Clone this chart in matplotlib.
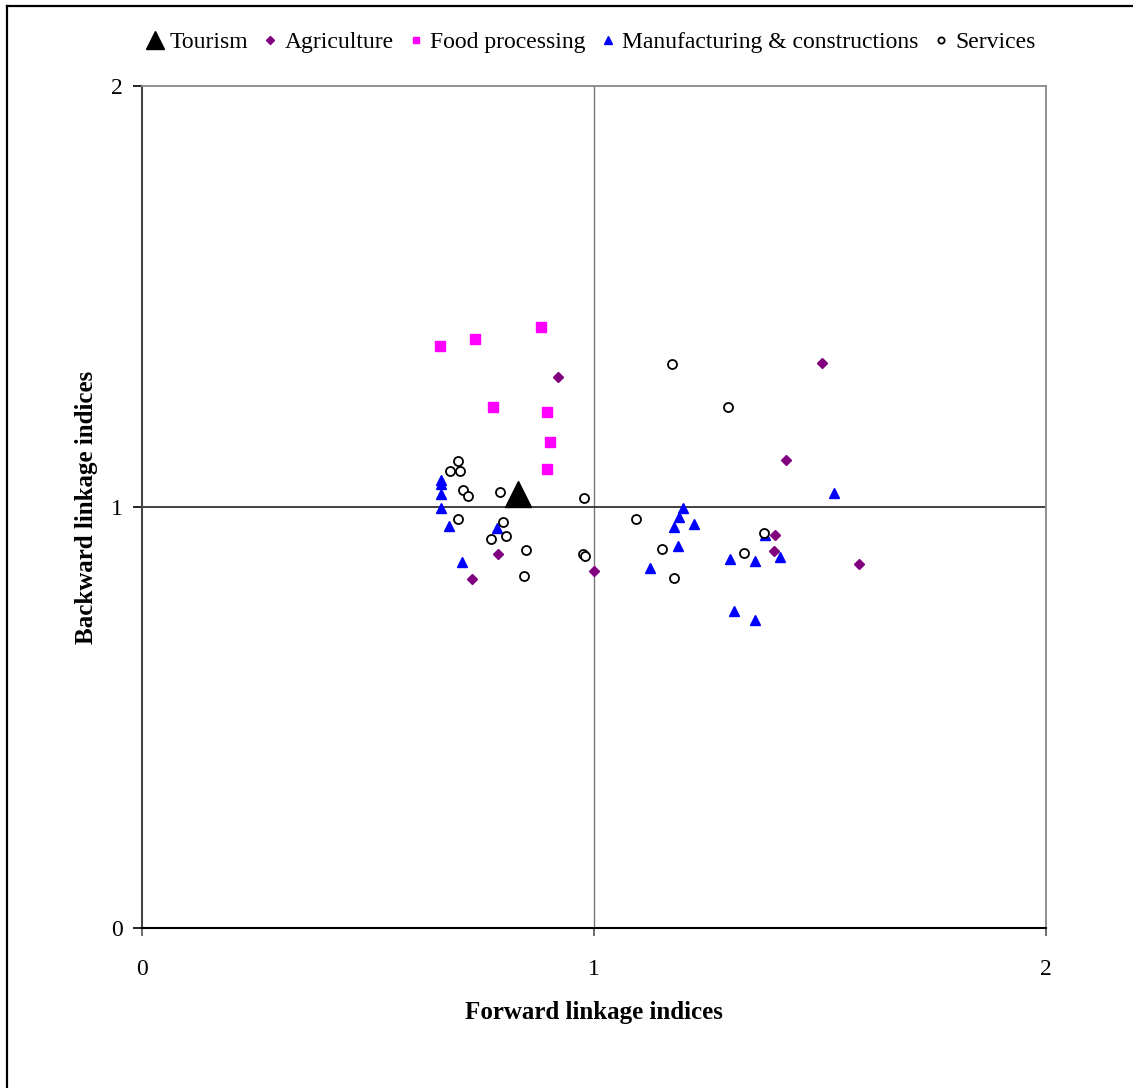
import numpy as np
import matplotlib
matplotlib.use("Agg")
import matplotlib.pyplot as plt
from matplotlib.lines import Line2D

plt.rcParams["font.family"] = ["Liberation Serif", "DejaVu Serif"]

# ----- veri
tour_x = [0.833]
tour_y = [1.030]

agri_x = [0.920, 0.788, 0.731, 1.000, 1.505, 1.425, 1.400, 1.398, 1.586]
agri_y = [1.308, 0.888, 0.830, 0.849, 1.342, 1.111, 0.933, 0.895, 0.865]

food_x = [0.659, 0.737, 0.882, 0.776, 0.896, 0.903, 0.896]
food_y = [1.382, 1.399, 1.428, 1.238, 1.226, 1.154, 1.090]

manu_x = [0.661, 0.661, 0.661, 0.661, 0.680, 0.785, 0.708, 1.197, 1.189, 1.178,
          1.222, 1.185, 1.123, 1.301, 1.356, 1.411, 1.378, 1.531, 1.309, 1.356]
manu_y = [1.065, 1.055, 1.031, 0.997, 0.955, 0.949, 0.870, 0.997, 0.977, 0.952,
          0.959, 0.908, 0.855, 0.876, 0.872, 0.882, 0.933, 1.034, 0.754, 0.732]

serv_x = [0.700, 0.681, 0.704, 0.711, 0.722, 0.791, 0.979, 0.700, 0.798, 0.805, 0.772,
          0.849, 0.976, 0.980, 0.845, 1.173, 1.296, 1.092, 1.150, 1.176, 1.333, 1.376]
serv_y = [1.110, 1.086, 1.086, 1.040, 1.026, 1.036, 1.022, 0.972, 0.965, 0.930, 0.923,
          0.897, 0.889, 0.884, 0.836, 1.340, 1.238, 0.972, 0.900, 0.832, 0.890, 0.939]

ticks = [0, 1, 2]

# ----- figur
fig = plt.figure(figsize=(11.33, 10.88), dpi=100)
ax = fig.add_axes([0.1253, 0.1471, 0.7979, 0.7739])

# kadran cizgileri
ax.axvline(1, color="#777777", lw=1.0, zorder=1)
ax.axhline(1, color="#333333", lw=1.3, zorder=1)

ax.plot(tour_x, tour_y, "^", color="black", ms=19, ls="none", label="Tourism", zorder=3)
ax.plot(agri_x, agri_y, "D", color="#800080", ms=5.6, ls="none", label="Agriculture", zorder=3)
ax.plot(food_x, food_y, "s", color="#FF00FF", ms=7, ls="none", label="Food processing", zorder=3)
ax.plot(manu_x, manu_y, "^", color="#0000FF", ms=7.8, ls="none",
        label="Manufacturing & constructions", zorder=3)
ax.plot(serv_x, serv_y, "o", mfc="white", mec="black", mew=1.3, ms=6.5, ls="none",
        label="Services", zorder=3)

ax.set_xlim(0, 2); ax.set_ylim(0, 2)
ax.set_xticks(ticks); ax.set_yticks(ticks)
ax.set_xticklabels([str(t) for t in ticks]); ax.set_yticklabels([str(t) for t in ticks])
ax.tick_params(axis="x", direction="out", length=6, width=1.2, pad=16, labelsize=17, color="#555555")
ax.tick_params(axis="y", direction="out", length=6.5, width=1.2, pad=7, labelsize=17, color="black")

for s in ["top", "right"]:
    ax.spines[s].set_color("#888888"); ax.spines[s].set_linewidth(1.3)
ax.spines["left"].set_color("#444444"); ax.spines["left"].set_linewidth(1.5)
ax.spines["bottom"].set_color("black"); ax.spines["bottom"].set_linewidth(1.5)

ax.set_xlabel("Forward linkage indices", fontsize=18, fontweight="bold", va="center")
ax.xaxis.set_label_coords(0.5, -0.101)
ax.set_ylabel("Backward linkage indices", fontsize=18, fontweight="bold", va="center")
ax.yaxis.set_label_coords(-0.061, 0.5)

leg = ax.legend(loc="center", bbox_to_anchor=(0.497, 1.052), ncol=5, frameon=False,
                fontsize=17, handlelength=0.7, handletextpad=0.25, columnspacing=0.6,
                borderaxespad=0, markerscale=1.0)
# legend isaretleri (referansta daha kucuk)
sizes = [13, 4.5, 5, 6, 4.5]
for h, ms in zip(leg.legend_handles, sizes):
    h.set_markersize(ms)

# sol ve ust cerceve
fig.add_artist(Line2D([7/1133, 7/1133], [0, 1 - 6/1088], color="black", lw=1.6,
                      transform=fig.transFigure))
fig.add_artist(Line2D([7/1133, 1], [1 - 6/1088, 1 - 6/1088], color="black", lw=1.6,
                      transform=fig.transFigure))

fig.savefig("out.png", dpi=100)
